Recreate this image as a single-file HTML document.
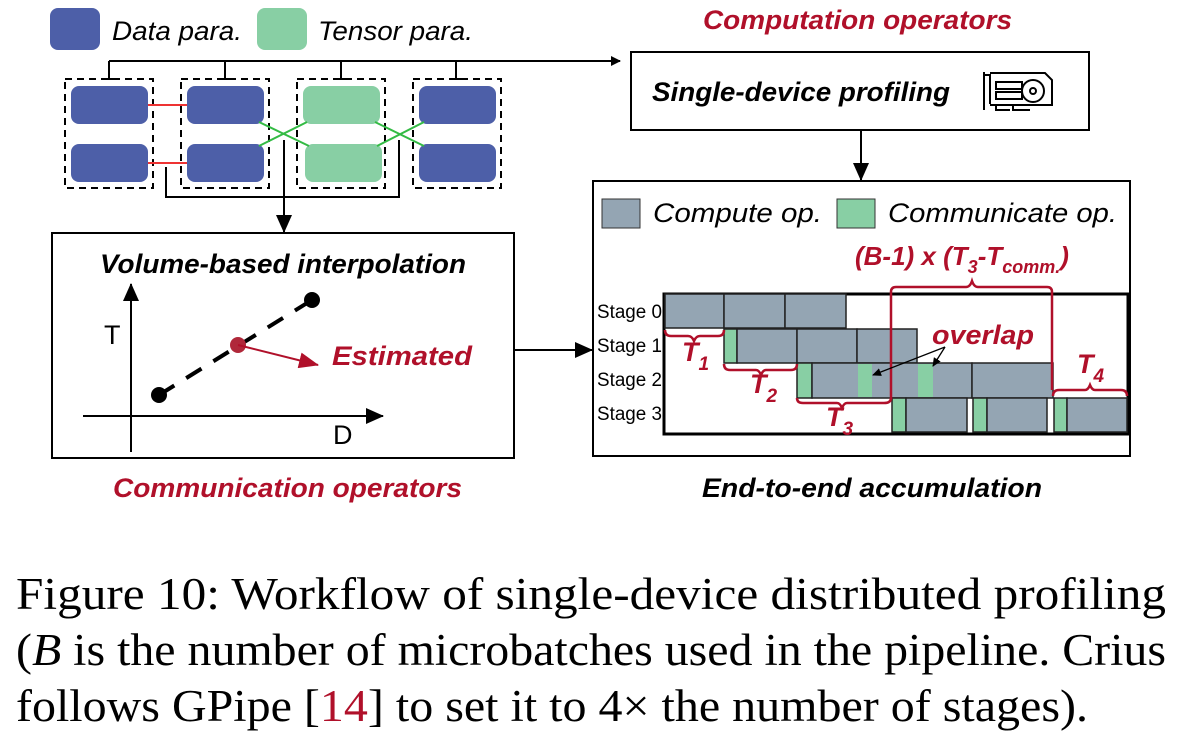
<!DOCTYPE html>
<html><head><meta charset="utf-8"><style>
html,body{margin:0;padding:0;background:#fff;width:1196px;height:736px;overflow:hidden}
svg{display:block}
.s{font-family:"Liberation Sans",sans-serif}
</style></head><body>
<svg width="1196" height="736" viewBox="0 0 1196 736" xmlns="http://www.w3.org/2000/svg">
<defs>
<marker id="ah" markerWidth="10" markerHeight="10" refX="9" refY="5" orient="auto" markerUnits="userSpaceOnUse"><path d="M0,0 L10,5 L0,10z" fill="#000"/></marker>
<marker id="ahb" markerWidth="18" markerHeight="16" refX="17" refY="8" orient="auto" markerUnits="userSpaceOnUse"><path d="M0,0 L18,8 L0,16z" fill="#000"/></marker>
<marker id="ahr" markerWidth="20" markerHeight="16" refX="19" refY="8" orient="auto" markerUnits="userSpaceOnUse"><path d="M0,0 L20,8 L0,16z" fill="#b0102a"/></marker>
<marker id="ahs" markerWidth="9" markerHeight="8" refX="8" refY="4" orient="auto" markerUnits="userSpaceOnUse"><path d="M0,0 L9,4 L0,8z" fill="#000"/></marker>
</defs>
<g class="s">
<rect x="50" y="8" width="50" height="42" rx="8" fill="#4d5fa8"/>
<text x="112" y="40" font-size="27" font-style="italic" textLength="130" lengthAdjust="spacingAndGlyphs">Data para.</text>
<rect x="257" y="8" width="50" height="42" rx="8" fill="#88cfa4"/>
<text x="318" y="40" font-size="27" font-style="italic" textLength="155" lengthAdjust="spacingAndGlyphs">Tensor para.</text>

<path d="M109,61 H620" stroke="#000" stroke-width="2" fill="none" marker-end="url(#ah)"/>
<path d="M109,61V79M225,61V79M341,61V79M456,61V79" stroke="#000" stroke-width="2"/>
<path d="M103,79H115M219,79H231M335,79H347M450,79H462" stroke="#000" stroke-width="2"/>
<g fill="none" stroke="#000" stroke-width="2" stroke-dasharray="7,5">
<rect x="65" y="79" width="88" height="109"/>
<rect x="181" y="79" width="88" height="109"/>
<rect x="297" y="79" width="88" height="109"/>
<rect x="413" y="79" width="88" height="109"/>
</g>
<rect x="71" y="86" width="77" height="38" rx="8" fill="#4d5fa8"/>
<rect x="71" y="144" width="77" height="38" rx="8" fill="#4d5fa8"/>
<rect x="187" y="86" width="77" height="38" rx="8" fill="#4d5fa8"/>
<rect x="187" y="144" width="77" height="38" rx="8" fill="#4d5fa8"/>
<rect x="303" y="86" width="77" height="38" rx="8" fill="#88cfa4"/>
<rect x="305" y="144" width="77" height="38" rx="8" fill="#88cfa4"/>
<rect x="419" y="86" width="77" height="38" rx="8" fill="#4d5fa8"/>
<rect x="419" y="144" width="77" height="38" rx="8" fill="#4d5fa8"/>
<path d="M148,105H187M148,163H187" stroke="#ee3333" stroke-width="2"/>
<path d="M259,122L309,146M259,146L307,122M375,122L424,146M377,146L424,122" stroke="#33bb44" stroke-width="2"/>
<path d="M166,167V197H399V140" stroke="#000" stroke-width="2" fill="none"/>
<path d="M284,140V232" stroke="#000" stroke-width="2" fill="none" marker-end="url(#ahb)"/>

<rect x="52" y="233" width="462" height="225" fill="none" stroke="#000" stroke-width="2"/>
<text x="100" y="273" font-size="27" font-weight="bold" font-style="italic" textLength="366" lengthAdjust="spacingAndGlyphs">Volume-based interpolation</text>
<path d="M131,452V284" stroke="#000" stroke-width="2" marker-end="url(#ahb)"/>
<path d="M83,416H383" stroke="#000" stroke-width="2" marker-end="url(#ahb)"/>
<text x="104" y="344" font-size="27">T</text>
<text x="333" y="444" font-size="27">D</text>
<path d="M159,395L312,300" stroke="#000" stroke-width="4" stroke-dasharray="18,14"/>
<circle cx="159" cy="395" r="8"/>
<circle cx="312" cy="300" r="8"/>
<circle cx="238" cy="345" r="8" fill="#b0283a"/>
<path d="M238,345L318,365" stroke="#b0102a" stroke-width="2" marker-end="url(#ahr)"/>
<text x="332" y="365" font-size="27" font-weight="bold" font-style="italic" fill="#b0102a" textLength="140" lengthAdjust="spacingAndGlyphs">Estimated</text>
<text x="113" y="497" font-size="27" font-weight="bold" font-style="italic" fill="#b0102a" textLength="349" lengthAdjust="spacingAndGlyphs">Communication operators</text>

<text x="703" y="29" font-size="27" font-weight="bold" font-style="italic" fill="#b0102a" textLength="309" lengthAdjust="spacingAndGlyphs">Computation operators</text>
<rect x="631" y="52" width="458" height="78" fill="none" stroke="#000" stroke-width="2"/>
<text x="652" y="101" font-size="27" font-weight="bold" font-style="italic" textLength="298" lengthAdjust="spacingAndGlyphs">Single-device profiling</text>
<g fill="none" stroke="#000" stroke-width="2">
<path d="M984,72V110M984,75H990V104M990,73H1045L1052,80V105H990"/>
<rect x="996" y="82" width="26" height="7"/><rect x="996" y="92" width="26" height="7"/>
<circle cx="1033" cy="91" r="11"/><circle cx="1033" cy="91" r="3"/>
<path d="M996,105V110H1010M1013,105V110H1030"/>
</g>
<path d="M861,130V180" stroke="#000" stroke-width="2" marker-end="url(#ahb)"/>
<path d="M514,350H592" stroke="#000" stroke-width="2" marker-end="url(#ahb)"/>

<rect x="593" y="181" width="537" height="275" fill="none" stroke="#000" stroke-width="2"/>
<rect x="602" y="199" width="38" height="29" fill="#94a5b3" stroke="#333"/>
<text x="653" y="222" font-size="27" font-style="italic" textLength="169" lengthAdjust="spacingAndGlyphs">Compute op.</text>
<rect x="837" y="199" width="38" height="29" fill="#88cfa4" stroke="#333"/>
<text x="888" y="222" font-size="27" font-style="italic" textLength="229" lengthAdjust="spacingAndGlyphs">Communicate op.</text>
<text x="855" y="265" font-size="26" font-weight="bold" font-style="italic" fill="#b0102a">(B-1) x (T<tspan font-size="18" dy="8">3</tspan><tspan dy="-8">-T</tspan><tspan font-size="18" dy="8">comm.</tspan><tspan dy="-8">)</tspan></text>

<rect x="664" y="294" width="464" height="140" fill="#fff" stroke="#000" stroke-width="3"/>
<g font-size="19">
<text x="597" y="318" textLength="65" lengthAdjust="spacingAndGlyphs">Stage 0</text>
<text x="597" y="352" textLength="65" lengthAdjust="spacingAndGlyphs">Stage 1</text>
<text x="597" y="386" textLength="65" lengthAdjust="spacingAndGlyphs">Stage 2</text>
<text x="597" y="420" textLength="65" lengthAdjust="spacingAndGlyphs">Stage 3</text>
</g>
<g stroke="#222" stroke-width="1.5" fill="#94a5b3">
<rect x="665" y="294" width="59" height="34"/><rect x="724" y="294" width="61" height="34"/><rect x="785" y="294" width="61" height="34"/>
<rect x="724" y="329" width="13" height="34" fill="#88cfa4"/><rect x="737" y="329" width="60" height="34"/><rect x="797" y="329" width="60" height="34"/><rect x="857" y="329" width="60" height="34"/>
<rect x="797" y="363" width="15" height="35" fill="#88cfa4"/><rect x="812" y="363" width="160" height="35"/><rect x="972" y="363" width="81" height="35"/>
<rect x="892" y="398" width="14" height="34" fill="#88cfa4"/><rect x="906" y="398" width="61" height="34"/>
<rect x="973" y="398" width="14" height="34" fill="#88cfa4"/><rect x="987" y="398" width="60" height="34"/>
<rect x="1054" y="398" width="13" height="34" fill="#88cfa4"/><rect x="1067" y="398" width="60" height="34"/>
</g>
<rect x="858" y="364" width="14" height="33" fill="#88cfa4"/>
<rect x="918" y="364" width="15" height="33" fill="#88cfa4"/>
<g fill="none" stroke="#b0102a" stroke-width="2.5">
<path d="M891,399V292Q891,287 896,287H966Q970,287 972,281Q974,287 978,287H1047Q1052,287 1052,292V390"/>
<path d="M665,330Q665,336 671,336H688Q692,336 694,341Q696,336 700,336H718Q724,336 724,330"/>
<path d="M724,364Q724,370 730,370H756Q759,370 761,375Q763,370 766,370H791Q797,370 797,364"/>
<path d="M797,398Q797,403 803,403H837Q840,403 842,408Q844,403 847,403H884Q891,403 891,398"/>
<path d="M1053,396Q1053,390 1059,390H1085Q1088,390 1090,385Q1092,390 1095,390H1121Q1127,390 1127,396"/>
</g>
<g fill="#b0102a" font-size="27" font-weight="bold" font-style="italic">
<text x="682" y="361">T<tspan font-size="19" dy="9">1</tspan></text>
<text x="750" y="393">T<tspan font-size="19" dy="9">2</tspan></text>
<text x="826" y="426">T<tspan font-size="19" dy="9">3</tspan></text>
<text x="1077" y="373">T<tspan font-size="19" dy="9">4</tspan></text>
<text x="932" y="344" textLength="102" lengthAdjust="spacingAndGlyphs">overlap</text>
</g>
<path d="M945,347L873,375" stroke="#000" stroke-width="1.3" marker-end="url(#ahs)"/>
<path d="M945,347L933,366" stroke="#000" stroke-width="1.3" marker-end="url(#ahs)"/>
<text x="702" y="497" font-size="27" font-weight="bold" font-style="italic" textLength="340" lengthAdjust="spacingAndGlyphs">End-to-end accumulation</text>
</g>
<g font-family="'Liberation Serif',serif" font-size="45">
<text x="16" y="609" textLength="1150" lengthAdjust="spacingAndGlyphs">Figure 10: Workflow of single-device distributed profiling</text>
<text x="16" y="665" textLength="1150" lengthAdjust="spacingAndGlyphs">(<tspan font-style="italic">B</tspan> is the number of microbatches used in the pipeline. Crius</text>
<text x="16" y="721" textLength="1072" lengthAdjust="spacingAndGlyphs">follows GPipe [<tspan fill="#b0102a">14</tspan>] to set it to 4× the number of stages).</text>
</g>
</svg>
</body></html>
